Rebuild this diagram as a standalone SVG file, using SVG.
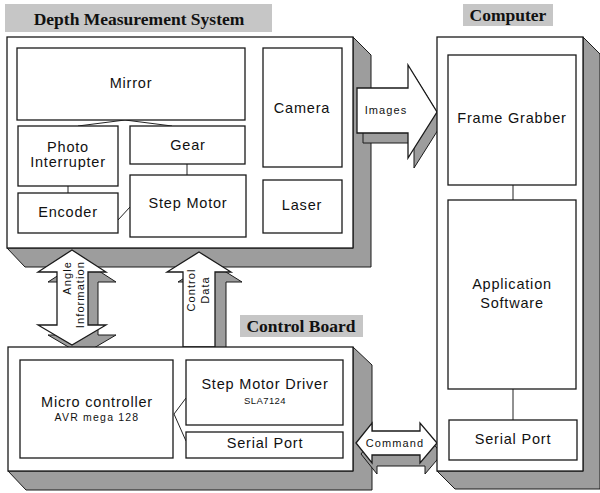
<svg xmlns="http://www.w3.org/2000/svg" width="600" height="493" viewBox="0 0 600 493">
  <style>
    .box { fill: #ffffff; stroke: #1a1a1a; stroke-width: 1.3; }
    .shade { fill: #9d9d9d; stroke: #1a1a1a; stroke-width: 1; }
    .tag { fill: #c6c6c6; }
    .wire { fill: none; stroke: #222222; stroke-width: 1; }
    .title { font-family: "Liberation Serif", "Times New Roman", serif; font-weight: bold; font-size: 17.5px; text-anchor: middle; fill: #111111; }
    .lbl { font-family: "Liberation Sans", Arial, sans-serif; font-size: 14.5px; letter-spacing: 0.8px; text-anchor: middle; fill: #111111; }
    .sm { font-family: "Liberation Sans", Arial, sans-serif; font-size: 10.5px; letter-spacing: 1.2px; text-anchor: middle; fill: #111111; }
    .arw { font-family: "Liberation Sans", Arial, sans-serif; font-size: 11px; letter-spacing: 1.1px; fill: #111111; }
  </style>

  <!-- section titles -->
  <g id="title-depth">
    <rect class="tag" x="5" y="4" width="267" height="28"/>
    <text class="title" x="139" y="25">Depth Measurement System</text>
  </g>
  <g id="title-computer">
    <rect class="tag" x="463" y="4" width="90" height="22"/>
    <text class="title" x="508" y="21">Computer</text>
  </g>
  <g id="title-board">
    <rect class="tag" x="240" y="315" width="123" height="22"/>
    <text class="title" x="301" y="332">Control Board</text>
  </g>

  <!-- depth measurement system frame -->
  <g id="depth-system">
    <polygon class="shade" points="353,37 371,55 371,267 25,267 7,248 353,248"/>
    <rect class="box" x="7" y="37" width="346" height="211"/>
  </g>

  <!-- block arrows between the units -->
  <g id="connectors">
    <g id="angle-arrow">
      <polygon class="shade" points="82,260 116,282 98,282 98,335 116,335 82,355 48,335 67,335 67,282 48,282"/>
      <polygon class="box" points="72,250 106,272 88,272 88,325 106,325 72,345 38,325 57,325 57,272 38,272"/>
      <text class="arw" text-anchor="end" transform="translate(71,261) rotate(-90)">Angle</text>
      <text class="arw" text-anchor="end" transform="translate(84,261) rotate(-90)">Information</text>
    </g>
    <g id="control-arrow">
      <polygon class="shade" points="210,262 242,282 226,282 226,357 194,357 194,282 178,282"/>
      <polygon class="box" points="199,252 231,272 215,272 215,347 183,347 183,272 167,272"/>
      <text class="arw" text-anchor="middle" transform="translate(195,290) rotate(-90)">Control</text>
      <text class="arw" text-anchor="middle" transform="translate(209,290) rotate(-90)">Data</text>
    </g>
  </g>

  <!-- control board frame -->
  <g id="control-board">
    <polygon class="shade" points="353,347 372,365 372,490 26,490 8,471 353,471"/>
    <rect class="box" x="8" y="347" width="345" height="124"/>
  </g>

  <g id="connectors-2">
    <g id="command-arrow">
      <polygon class="shade" points="361,454 377,434 377,442 425,442 425,434 442,454 425,474 425,466 377,466 377,474"/>
      <polygon class="box" points="356,443 372,423 372,431 420,431 420,423 437,443 420,463 420,455 372,455 372,463"/>
      <text class="arw" text-anchor="middle" x="395" y="447">Command</text>
    </g>
    <g id="images-arrow">
      <polygon class="shade" points="363,98 414,98 414,75 443,122 414,168 414,143 363,143"/>
      <polygon class="box" points="357,88 408,88 408,65 437,112 408,158 408,133 357,133"/>
      <text class="arw" text-anchor="middle" x="386" y="114">Images</text>
    </g>
  </g>

  <!-- computer frame -->
  <g id="computer">
    <polygon class="shade" points="583,37 600,54 600,489 455,489 437,471 583,471"/>
    <rect class="box" x="437" y="37" width="146" height="434"/>
  </g>

  <!-- links inside the units -->
  <g id="links">
    <polyline class="wire" points="78,126 125,120 172,126"/>
    <line class="wire" x1="68" y1="186" x2="68" y2="193"/>
    <line class="wire" x1="187" y1="164" x2="187" y2="175"/>
    <line class="wire" x1="118" y1="220" x2="130" y2="207"/>
    <polyline class="wire" points="186,398 174,414 186,441"/>
    <line class="wire" x1="513" y1="185" x2="513" y2="200"/>
    <line class="wire" x1="513" y1="389" x2="513" y2="420"/>
  </g>

  <!-- depth measurement system parts -->
  <g id="mirror">
    <rect class="box" x="17" y="48" width="228" height="72"/>
    <text class="lbl" x="131" y="88">Mirror</text>
  </g>
  <g id="photo-interrupter">
    <rect class="box" x="18" y="126" width="100" height="60"/>
    <text class="lbl" x="68" y="152">Photo</text>
    <text class="lbl" x="68" y="167">Interrupter</text>
  </g>
  <g id="gear">
    <rect class="box" x="130" y="126" width="115" height="38"/>
    <text class="lbl" x="188" y="150">Gear</text>
  </g>
  <g id="encoder">
    <rect class="box" x="18" y="193" width="100" height="40"/>
    <text class="lbl" x="68" y="217">Encoder</text>
  </g>
  <g id="step-motor">
    <rect class="box" x="130" y="175" width="116" height="62"/>
    <text class="lbl" x="188" y="208">Step Motor</text>
  </g>
  <g id="camera">
    <rect class="box" x="263" y="48" width="79" height="119"/>
    <text class="lbl" x="302" y="113">Camera</text>
  </g>
  <g id="laser">
    <rect class="box" x="263" y="180" width="79" height="53"/>
    <text class="lbl" x="302" y="210">Laser</text>
  </g>

  <!-- control board parts -->
  <g id="micro-controller">
    <rect class="box" x="20" y="360" width="153" height="98"/>
    <text class="lbl" x="97" y="407">Micro controller</text>
    <text class="sm" x="97" y="421">AVR mega 128</text>
  </g>
  <g id="step-motor-driver">
    <rect class="box" x="186" y="360" width="157" height="65"/>
    <text class="lbl" x="265" y="389">Step Motor Driver</text>
    <text class="sm" x="265" y="404" style="font-size:9.5px;letter-spacing:0.4px">SLA7124</text>
  </g>
  <g id="board-serial-port">
    <rect class="box" x="186" y="432" width="157" height="26"/>
    <text class="lbl" x="265" y="448">Serial Port</text>
  </g>

  <!-- computer parts -->
  <g id="frame-grabber">
    <rect class="box" x="448" y="55" width="128" height="130"/>
    <text class="lbl" x="512" y="123">Frame Grabber</text>
  </g>
  <g id="application-software">
    <rect class="box" x="448" y="200" width="128" height="189"/>
    <text class="lbl" x="512" y="289">Application</text>
    <text class="lbl" x="512" y="308">Software</text>
  </g>
  <g id="pc-serial-port">
    <rect class="box" x="449" y="420" width="128" height="40"/>
    <text class="lbl" x="513" y="444">Serial Port</text>
  </g>
</svg>
